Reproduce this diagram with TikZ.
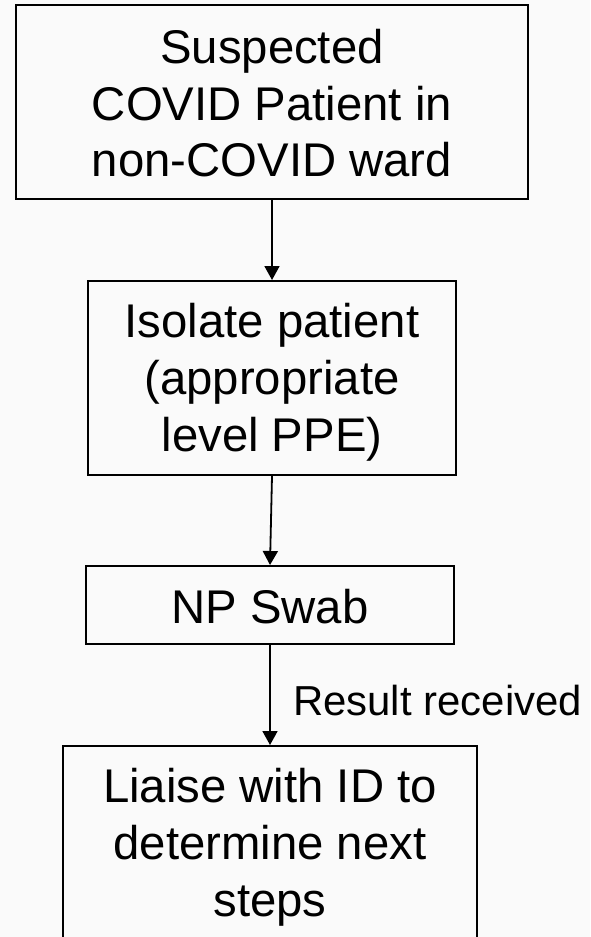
\documentclass[tikz,border=0pt]{standalone}
\usepackage{fontspec}
\setmainfont{Liberation Sans}
\usetikzlibrary{arrows.meta}
\definecolor{paper}{RGB}{250,250,250}
\begin{document}
\begin{tikzpicture}[x=1pt,y=-1pt,
  stepbox/.style={draw=black, line width=2pt, inner sep=0pt},
  boxtext/.style={inner sep=0pt, align=center, font=\fontsize{47.3}{56.8}\selectfont},
  flow/.style={draw=black, line width=1.8pt, -{Triangle[width=15pt,length=14pt]}},
  flowlabel/.style={inner sep=0pt, anchor=base west, font=\fontsize{41.9}{50}\selectfont}]
  % page frame
  \useasboundingbox (0,0) rectangle (590,937);
  \clip (0,0) rectangle (590,937);
  \fill[paper] (0,0) rectangle (590,937);

  % process boxes
  \node[stepbox, minimum width=512pt, minimum height=194pt] (b1) at (272,102) {};
  \node[stepbox, minimum width=368pt, minimum height=194pt] (b2) at (272,378) {};
  \node[stepbox, minimum width=368pt, minimum height=78pt]  (b3) at (270,605) {};
  \node[stepbox, minimum width=414pt, minimum height=214pt] (b4) at (270,853) {};

  % box texts
  \node[boxtext] (t1) at (272,108.7) {\strut Suspected\\\strut COVID Patient in\\\strut non-COVID ward};
  \node[boxtext] (t2) at (272,383.4) {\strut Isolate patient\\\strut (appropriate\\\strut level PPE)};
  \node[boxtext] (t3) at (270,612.6) {\strut NP Swab};
  \node[boxtext] (t4) at (270,848.4) {\strut Liaise with ID to\\\strut determine next\\\strut steps};

  % connectors
  \draw[flow] (b1.south) -- (b2.north);
  \draw[flow] (b2.south) -- (b3.north);
  \draw[flow] (b3.south) -- (b4.north);
  \node[flowlabel] (lbl) at (293,715) {Result received};
\end{tikzpicture}
\end{document}
